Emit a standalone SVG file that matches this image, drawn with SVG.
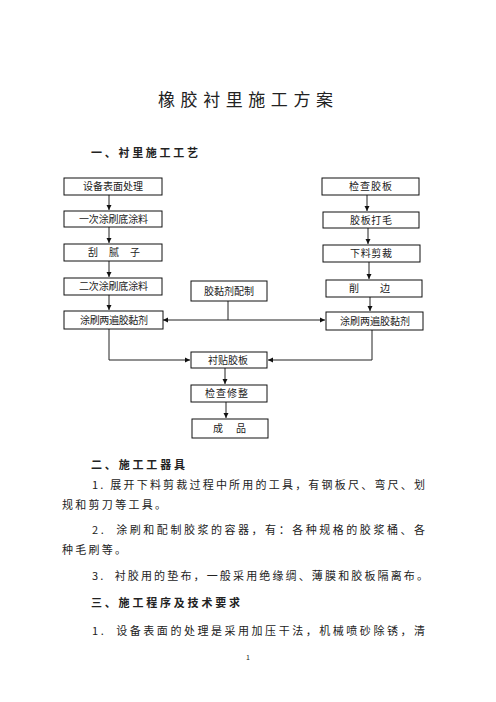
<svg xmlns="http://www.w3.org/2000/svg" width="496" height="702" viewBox="0 0 496 702">
<style>
text{font-family:"Noto Sans CJK SC","Noto Sans CJK JP",sans-serif;fill:#222}
.box rect{fill:#fff;stroke:#111;stroke-width:1}
.box text{font-size:10px}
.h{font-size:11px;font-weight:bold}
.p{font-size:11px}
.c path{fill:none;stroke:#222;stroke-width:1}
</style>
<defs>
<marker id="a" markerUnits="userSpaceOnUse" markerWidth="6" markerHeight="6" refX="5" refY="3" orient="auto"><path d="M0,0.5 L5,3 L0,5.5 Z" fill="#111"/></marker>
</defs>
<rect width="496" height="702" fill="#fff"/>
<text x="158" y="106" font-size="17" textLength="175" lengthAdjust="spacing">橡胶衬里施工方案</text>
<text class="h" x="91" y="157" textLength="107" lengthAdjust="spacing">一、衬里施工工艺</text>

<g class="c">
<path d="M109 195V210" marker-end="url(#a)"/>
<path d="M109 227V243" marker-end="url(#a)"/>
<path d="M109 261V277" marker-end="url(#a)"/>
<path d="M109 295V310" marker-end="url(#a)"/>
<path d="M367 195V211" marker-end="url(#a)"/>
<path d="M368 228V244" marker-end="url(#a)"/>
<path d="M369 262V279" marker-end="url(#a)"/>
<path d="M370 297V311" marker-end="url(#a)"/>
<path d="M228 301V320"/>
<path d="M228 320H163" marker-end="url(#a)"/>
<path d="M228 320H325" marker-end="url(#a)"/>
<path d="M109 329V360H190" marker-end="url(#a)"/>
<path d="M372 330V360H268" marker-end="url(#a)"/>
<path d="M225 368V384" marker-end="url(#a)"/>
<path d="M226 402V418" marker-end="url(#a)"/>
</g>

<g id="n1" class="box"><rect x="64" y="178" width="98" height="17"/><text x="83" y="190" textLength="60" lengthAdjust="spacing">设备表面处理</text></g>
<g id="n2" class="box"><rect x="64" y="211" width="98" height="16"/><text x="79" y="223" textLength="69" lengthAdjust="spacing">一次涂刷底涂料</text></g>
<g id="n3" class="box"><rect x="64" y="244" width="98" height="17"/><text x="88" y="256" textLength="52" lengthAdjust="spacing">刮腻子</text></g>
<g id="n4" class="box"><rect x="64" y="278" width="98" height="17"/><text x="79" y="290" textLength="69" lengthAdjust="spacing">二次涂刷底涂料</text></g>
<g id="n5" class="box"><rect x="64" y="311" width="99" height="18"/><text x="80" y="324" textLength="68" lengthAdjust="spacing">涂刷两遍胶黏剂</text></g>

<g id="n6" class="box"><rect x="322" y="178" width="97" height="17"/><text x="349" y="190" textLength="43" lengthAdjust="spacing">检查胶板</text></g>
<g id="n7" class="box"><rect x="323" y="212" width="96" height="16"/><text x="350" y="224" textLength="42" lengthAdjust="spacing">胶板打毛</text></g>
<g id="n8" class="box"><rect x="323" y="245" width="97" height="17"/><text x="350" y="257" textLength="42" lengthAdjust="spacing">下料剪裁</text></g>
<g id="n9" class="box"><rect x="326" y="280" width="96" height="17"/><text x="349" y="292" textLength="41" lengthAdjust="spacing">削边</text></g>
<g id="n10" class="box"><rect x="326" y="312" width="97" height="18"/><text x="340" y="325" textLength="70" lengthAdjust="spacing">涂刷两遍胶黏剂</text></g>

<g id="n11" class="box"><rect x="191" y="281" width="76" height="20"/><text x="204" y="295" textLength="50" lengthAdjust="spacing">胶黏剂配制</text></g>
<g id="n12" class="box"><rect x="191" y="352" width="76" height="16"/><text x="208" y="364" textLength="40" lengthAdjust="spacing">衬贴胶板</text></g>
<g id="n13" class="box"><rect x="191" y="385" width="76" height="17"/><text x="205" y="397" textLength="43" lengthAdjust="spacing">检查修整</text></g>
<g id="n14" class="box"><rect x="192" y="419" width="76" height="19"/><text x="213" y="432" textLength="33" lengthAdjust="spacing">成品</text></g>

<text class="h" x="91" y="469" textLength="94" lengthAdjust="spacing">二、施工工器具</text>
<text class="p" x="92" y="489" textLength="333" lengthAdjust="spacing">1. 展开下料剪裁过程中所用的工具，有钢板尺、弯尺、划</text>
<text class="p" x="62" y="509" textLength="104" lengthAdjust="spacing">规和剪刀等工具。</text>
<text class="p" x="92" y="534" textLength="333" lengthAdjust="spacing" xml:space="preserve">2.  涂刷和配制胶浆的容器，有：各种规格的胶浆桶、各</text>
<text class="p" x="62" y="554" textLength="64" lengthAdjust="spacing">种毛刷等。</text>
<text class="p" x="92" y="580" textLength="336" lengthAdjust="spacing" xml:space="preserve">3.  衬胶用的垫布，一般采用绝缘绸、薄膜和胶板隔离布。</text>
<text class="h" x="91" y="607" textLength="149" lengthAdjust="spacing">三、施工程序及技术要求</text>
<text class="p" x="92" y="635" textLength="333" lengthAdjust="spacing" xml:space="preserve">1.  设备表面的处理是采用加压干法，机械喷砂除锈，清</text>
<text x="248" y="660" font-size="7" text-anchor="middle" font-family="Liberation Serif, serif">1</text>
</svg>
